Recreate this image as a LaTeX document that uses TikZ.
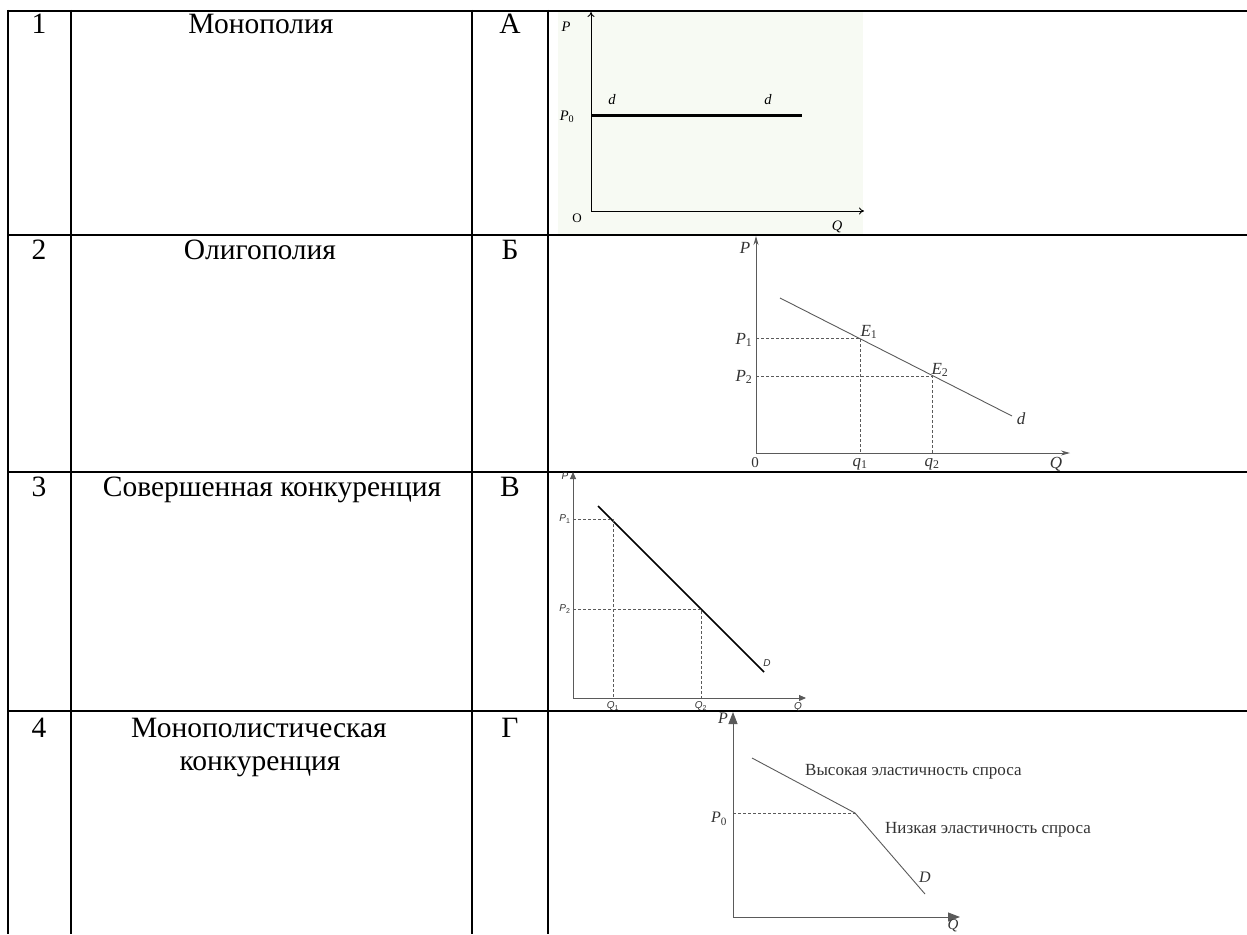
\documentclass[tikz,border=0pt]{standalone}
\usepackage{fontspec}
\setmainfont{Liberation Serif}
\newfontfamily\sansf{Liberation Sans}
\usetikzlibrary{arrows.meta}
\definecolor{bgA}{RGB}{247,250,243}
\definecolor{lineg}{RGB}{90,90,90}
\definecolor{txtg}{RGB}{50,50,50}
\begin{document}
\begin{tikzpicture}[x=1pt,y=-1pt,
  tbl/.style={line width=2pt,black},
  cell/.style={anchor=base,inner sep=0pt,font=\fontsize{29.5}{33}\selectfont,align=center},
  labA/.style={inner sep=0pt,font=\fontsize{14.5}{14.5}\selectfont\itshape},
  labB/.style={inner sep=0pt,text=txtg,font=\fontsize{17}{17}\selectfont\itshape},
  labV/.style={inner sep=0pt,text=txtg,font=\sansf\fontsize{10}{10}\selectfont\itshape},
  labG/.style={inner sep=0pt,text=txtg,font=\fontsize{17}{17}\selectfont},
  dsh/.style={dashed,dash pattern=on 3pt off 2pt,line width=0.6pt,lineg}
]
\useasboundingbox (0,0) rectangle (1247,934);
% graph A background
\fill[bgA] (558,12) rectangle (863,234);
% table
\draw[tbl] (8,11) -- (1247,11);
\foreach \yy in {235,472,711} \draw[tbl] (8,\yy) -- (1247,\yy);
\foreach \xx in {8,71,472,548} \draw[tbl] (\xx,10) -- (\xx,934);
% table texts
\node[cell] (n1) at (39,34) {1};
\node[cell] (t1) at (261,34) {Монополия};
\node[cell] (l1) at (510,34) {А};
\node[cell] (n2) at (39,259) {2};
\node[cell] (t2) at (260,259) {Олигополия};
\node[cell] (l2) at (510,259) {Б};
\node[cell] (n3) at (39,496) {3};
\node[cell] (t3) at (272,496) {Совершенная конкуренция};
\node[cell] (l3) at (510,496) {В};
\node[cell] (n4) at (39,737) {4};
\node[cell] (t4) at (259,737) {Монополистическая};
\node[cell] (t4b) at (260,770) {конкуренция};
\node[cell] (l4) at (510,737) {Г};
% ---- graph A
\coordinate (aO) at (591,211);
\coordinate (aY) at (591,12);
\coordinate (aX) at (864,211);
\coordinate (aD1) at (591,115);
\coordinate (aD2) at (802,115);
\draw[line width=0.9pt,-{To[length=5pt,width=7pt]}] (aO) -- (aY);
\draw[line width=0.9pt,-{To[length=5pt,width=7pt]}] (aO) -- (aX);
\draw[line width=3pt] (aD1) -- (aD2);
\node[labA] (aP) at (566,27) {P};
\node[labA] (aP0) at (567,117) {P\textsubscript{\upshape 0}};
\node[labA] (ad1) at (612,100) {d};
\node[labA] (ad2) at (768,100) {d};
\node[labA,font=\fontsize{13}{13}\selectfont] (aOl) at (577,218) {O};
\node[labA] (aQ) at (837,227) {Q};
% ---- graph B
\coordinate (bO) at (756,453);
\coordinate (bY) at (756,236);
\coordinate (bX) at (1070,453);
\coordinate (bS) at (780,298);
\coordinate (bE) at (1012,416);
\coordinate (bE1) at (860,338);
\coordinate (bE2) at (932,376);
\draw[lineg,line width=0.9pt,-{Stealth[length=9pt,width=5pt]}] (bO) -- (bY);
\draw[lineg,line width=0.9pt,-{Stealth[length=9pt,width=5pt]}] (bO) -- (bX);
\draw[lineg,line width=0.9pt] (bS) -- (bE);
\draw[dsh] (bO |- bE1) -- (bE1) -- (bE1 |- bO);
\draw[dsh] (bO |- bE2) -- (bE2) -- (bE2 |- bO);
\node[labB] (bP) at (745,248) {P};
\node[labB] (bP1) at (744,340) {P\textsubscript{\upshape 1}};
\node[labB] (bP2) at (744,377) {P\textsubscript{\upshape 2}};
\node[labB] (bE1l) at (869,332) {E\textsubscript{\upshape 1}};
\node[labB] (bE2l) at (940,370) {E\textsubscript{\upshape 2}};
\node[labB] (bdl) at (1021,419) {d};
\node[labB,font=\fontsize{15}{15}\selectfont] (b0) at (755,463) {0};
\node[labB] (bq1) at (860,464) {q\textsubscript{\upshape 1}};
\node[labB] (bq2) at (932,464) {q\textsubscript{\upshape 2}};
\node[labB] (bQ) at (1056,464) {Q};
% ---- graph V
\coordinate (vO) at (573,698);
\coordinate (vY) at (573,472);
\coordinate (vX) at (806,698);
\coordinate (vS) at (598,506);
\coordinate (vE) at (764,672);
\coordinate (v1) at (613,519);
\coordinate (v2) at (701,609);
\draw[lineg,line width=0.9pt,-{Triangle[length=7pt,width=6pt]}] (vO) -- (vY);
\draw[lineg,line width=0.9pt,-{Triangle[length=7pt,width=6pt]}] (vO) -- (vX);
\draw[black,line width=1.5pt] (vS) -- (vE);
\draw[dsh,line width=0.5pt] (vO |- v1) -- (v1) -- (v1 |- vO);
\draw[dsh,line width=0.5pt] (vO |- v2) -- (v2) -- (v2 |- vO);
\node[labV] (vP) at (565,476) {P};
\node[labV] (vP1) at (565,519) {P\textsubscript{\upshape 1}};
\node[labV] (vP2) at (565,609) {P\textsubscript{\upshape 2}};
\node[labV] (vD) at (767,663) {D};
\node[labV] (vQ1) at (613,706) {Q\textsubscript{\upshape 1}};
\node[labV] (vQ2) at (701,706) {Q\textsubscript{\upshape 2}};
\node[labV] (vQ) at (798,707) {Q};
% ---- graph G
\coordinate (gO) at (733,917);
\coordinate (gY) at (733,712);
\coordinate (gX) at (960,917);
\coordinate (gS) at (752,758);
\coordinate (gK) at (855,813);
\coordinate (gE) at (925,894);
\draw[lineg,line width=0.9pt,-{Triangle[length=12pt,width=9pt]}] (gO) -- (gY);
\draw[lineg,line width=0.9pt,-{Triangle[length=12pt,width=9pt]}] (gO) -- (gX);
\draw[lineg,line width=0.9pt] (gS) -- (gK) -- (gE);
\draw[dsh] (gO |- gK) -- (gK);
\node[labG,font=\fontsize{16}{16}\selectfont\itshape] (gP) at (723,718) {P};
\node[labG,font=\fontsize{16}{16}\selectfont\itshape] (gP0) at (719,819) {P\textsubscript{\upshape 0}};
\node[labG,anchor=west] (gHi) at (805,772) {Высокая эластичность спроса};
\node[labG,anchor=west] (gLo) at (885,830) {Низкая эластичность спроса};
\node[labG,font=\fontsize{16}{16}\selectfont\itshape] (gD) at (925,877) {D};
\node[labG,font=\fontsize{15}{15}\selectfont\itshape] (gQ) at (953,926) {Q};
\end{tikzpicture}
\end{document}
